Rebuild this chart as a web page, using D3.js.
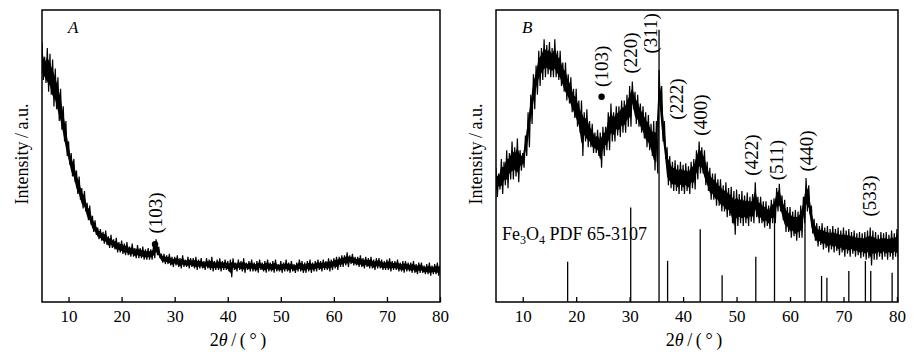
<!DOCTYPE html>
<html>
<head>
<meta charset="utf-8">
<script src="https://cdn.jsdelivr.net/npm/d3@7"></script>
<style>
  body { margin: 0; background: #fff; }
  svg text { font-family: "Liberation Serif", "Times New Roman", serif; fill: #000; }
</style>
</head>
<body>
<svg id="chart" width="914" height="359"></svg>
<script>
// sampling grid of the traces (2theta, degrees)
var thetaStart = 5, thetaStep = 0.5;

// panel A: upper / lower edge of the noisy trace, one value per 0.5 deg from 5 to 80
var aHigh = [
  89, 84, 87, 85, 83, 80, 77, 73, 67, 62,
  55, 51, 49, 45, 43, 39, 38, 34, 33, 29.5,
  28, 25.5, 25, 24, 24.5, 22.5, 23, 21.5, 22, 20.5,
  21, 20, 20.5, 19, 20, 18.5, 19.5, 18.5, 19, 18,
  18.5, 18, 19, 21.5, 19, 16.5, 16.5, 16, 16.5, 15.5,
  15.5, 16, 15, 16, 14.5, 15.5, 15, 15, 15.5, 14.5,
  15, 14, 15, 14.5, 15.5, 14, 14.5, 15, 14, 14.5,
  14, 14.5, 15, 13.5, 14.5, 14, 15, 13.5, 14, 14.5,
  13.5, 14, 14.5, 13.5, 14, 14.5, 13.5, 14, 14.5, 13,
  14, 13.5, 14.5, 13.5, 14, 13, 13.5, 14.5, 14, 13.5,
  14, 14.5, 13.5, 14, 14.5, 14, 14.5, 14, 15, 14.5,
  15, 15.5, 15.5, 16, 16, 17, 16, 16.5, 15.5, 15.5,
  16, 15, 15.5, 15, 15.5, 14.5, 15, 15, 14.5, 14,
  14.5, 15, 14, 14, 14.5, 13.5, 14, 14, 13.5, 13.5,
  14, 13, 13.5, 13.5, 12.5, 13, 13.5, 12.5, 13, 13.5,
  12.5
];
var aLow = [
  76, 75, 72, 71, 67, 66, 62, 59, 55, 50,
  47, 43, 41, 37, 35, 32, 31, 28, 26.5, 24,
  23, 21.5, 21, 20, 19.5, 18.5, 18.5, 18, 17, 17,
  16.5, 16, 16, 15.5, 15.5, 15, 15, 15, 14.5, 14.5,
  14.5, 14.5, 15, 16, 15, 13.5, 13, 13, 12.5, 12,
  12.5, 12, 11.5, 12, 12, 11.5, 12, 11.5, 11, 11.5,
  11.5, 11, 11.5, 11, 10.5, 11, 11, 10.5, 11, 11,
  10.5, 8.5, 11, 10.5, 11, 10.5, 10, 11, 10.5, 10.5,
  10.5, 10, 11, 10.5, 10, 10.5, 10.5, 10, 10.5, 10.5,
  10, 10.5, 10.5, 10, 10.5, 10, 10.5, 10.5, 10, 10,
  10.5, 10, 10.5, 10.5, 11, 10.5, 11, 11, 10.5, 11,
  11.5, 11, 12, 12, 12.5, 12, 13, 12.5, 12.5, 12,
  12, 11.5, 12, 11.5, 11.5, 11, 11.5, 11.5, 11, 11,
  11, 10.5, 11, 11, 10.5, 10.5, 10, 10.5, 10.5, 10,
  10, 9.5, 10, 10, 9.5, 9.5, 9, 9.5, 9.5, 9,
  9.5
];

// panel B: same, from 5 to 80.5
var bHigh = [
  46, 44, 49, 48, 52, 51, 55, 53, 56, 52,
  51, 57, 65, 71, 78, 81, 86, 87, 90, 88,
  89, 87, 90, 86, 86, 82, 82, 78, 77, 73,
  73, 69, 69, 65, 66, 62, 61, 58, 59, 58,
  60, 60, 65, 68, 65, 67, 67, 69, 69, 71,
  74, 75.5, 72, 71, 68, 67, 65, 64, 61, 62,
  62, 79.5, 74, 62, 53, 50, 48, 48.5, 47, 48,
  47, 47.5, 46.5, 48, 49, 52, 55, 53, 52, 48,
  46, 44, 44, 42, 42, 40, 41, 39, 39.5, 38,
  38.5, 37, 38, 36.5, 37.5, 36, 37, 41, 36, 36,
  34.5, 34.5, 33, 35, 35.5, 39, 40.5, 36.5, 35, 32.5,
  32.5, 31, 31.5, 31, 33, 36, 42.5, 40, 33, 28.5,
  27, 26, 27, 25.5, 26, 25, 26, 25, 25.5, 24.5,
  25.5, 24.5, 25, 24, 24.5, 23.5, 24, 23.5, 24, 24.5,
  25.5, 24.5, 24, 23, 24, 23.5, 24, 23, 24.5, 23.5,
  25, 24
];
var bLow = [
  36, 38.5, 37, 40, 39, 42, 42, 43, 41, 45,
  46, 50, 53, 61, 66, 71, 74, 76, 77, 78,
  77, 77, 77, 76, 74, 72, 69, 68, 65, 63,
  60, 58, 50, 55, 53, 53, 51, 51, 50, 46,
  50, 52, 52, 55, 55, 57, 56.5, 58, 58, 60,
  60, 66, 61, 60, 58, 56, 53, 52, 50, 45,
  44, 67, 55, 49, 40, 39, 38, 38, 37, 38,
  37, 38, 37, 39, 38.5, 42, 44, 44, 40, 38,
  35, 35, 33, 33, 31, 31, 29, 29.5, 27, 23,
  26, 27, 26, 27, 26, 27.5, 27, 29, 27, 27,
  25.5, 26, 25, 27, 27, 31, 31, 28, 24, 24,
  22, 22.5, 21, 22, 22, 27, 31, 30, 23.5, 21,
  19, 19.5, 18, 18.5, 17, 18, 17, 17.5, 16, 17,
  15.5, 16.5, 15.5, 16.5, 15.5, 16, 15, 15.5, 14.5, 15,
  12.5, 14.5, 14.5, 15.5, 14.5, 15.5, 14.5, 15.5, 14.5, 15.5,
  14.5, 16
];

// Fe3O4 PDF 65-3107 reference lines
var pdfTheta = [18.4, 30.2, 35.5, 37.1, 43.2, 47.3, 53.6, 57.1, 62.8, 65.9, 66.9, 71.0, 74.1, 75.1, 79.1];
var pdfHeight = [13.8, 32.4, 93.2, 14.1, 24.9, 9.2, 15.5, 31, 36, 8.9, 8.3, 10.6, 14.0, 10.6, 10.0];

// peak labels
var aPeaks = [{ text: "(103)", theta: 26.3, y: 30.5, dot: 19.8 }];
var bPeaks = [
  { text: "(103)", theta: 24.75, y: 80.7, dot: 70.3 },
  { text: "(220)", theta: 30.05, y: 85.3 },
  { text: "(311)", theta: 33.8, y: 92 },
  { text: "(222)", theta: 38.8, y: 69.5 },
  { text: "(400)", theta: 43.3, y: 64 },
  { text: "(422)", theta: 52.8, y: 50.3 },
  { text: "(511)", theta: 57.5, y: 48.6 },
  { text: "(440)", theta: 63.1, y: 51.7 },
  { text: "(533)", theta: 74.8, y: 36.3 }
];

var xTicks = [10, 20, 30, 40, 50, 60, 70, 80];

var svg = d3.select("#chart");

// zigzag between the upper and lower edge, lower point half a step later
function tracePoints(high, low) {
    var pts = [];
    high.forEach(function(h, i) {
        var t = thetaStart + i * thetaStep;
        pts.push([t, h]);
        pts.push([t + thetaStep / 2, low[i]]);
    });
    return pts;
}

function drawPanel(opts) {
    var dim = { left: opts.left, right: opts.right, top: 10, bottom: 302 };

    var x = d3.scaleLinear().domain(opts.domain).range([dim.left, dim.right]);
    var y = d3.scaleLinear().domain([0, 100]).range([dim.bottom, dim.top]);

    var g = svg.append("g");

    g.append("clipPath")
        .attr("id", "clip-" + opts.id)
        .append("rect")
        .attr("x", dim.left)
        .attr("y", dim.top)
        .attr("width", dim.right - dim.left)
        .attr("height", dim.bottom - dim.top);

    var line = d3.line()
        .x(function(d) { return x(d[0]); })
        .y(function(d) { return y(d[1]); });

    // reference sticks
    if (opts.sticks) {
        g.append("g").selectAll("line").data(opts.sticks)
            .enter().append("line")
            .attr("x1", function(d) { return x(d[0]); })
            .attr("x2", function(d) { return x(d[0]); })
            .attr("y1", y(0))
            .attr("y2", function(d) { return y(d[1]); })
            .attr("stroke", "#000")
            .attr("stroke-width", 1.3);
    }

    var trace = g.append("g").attr("clip-path", "url(#clip-" + opts.id + ")");

    // solid core of the noise band
    var core = d3.area()
        .x(function(d, i) { return x(thetaStart + i * thetaStep); })
        .y0(function(d, i) { return y(opts.low[i] + (d - opts.low[i]) * 0.22); })
        .y1(function(d, i) { return y(d - (d - opts.low[i]) * 0.22); });

    trace.append("path")
        .datum(opts.high)
        .attr("fill", "#000")
        .attr("d", core);

    trace.append("path")
        .datum(tracePoints(opts.high, opts.low))
        .attr("fill", "none")
        .attr("stroke", "#000")
        .attr("stroke-width", 1.2)
        .attr("d", line);

    // bottom axis, ticks pointing inward
    var xAxis = d3.axisBottom(x)
        .tickValues(xTicks)
        .tickSizeInner(-5)
        .tickSizeOuter(0)
        .tickPadding(8)
        .tickFormat(d3.format("d"));

    var ax = g.append("g")
        .attr("transform", "translate(0," + dim.bottom + ")")
        .call(xAxis);
    ax.select(".domain").remove();
    ax.selectAll(".tick line").attr("stroke", "#000").attr("stroke-width", 1.3);
    ax.selectAll(".tick text")
        .attr("font-family", "Liberation Serif")
        .attr("font-size", 17)
        .attr("fill", "#000");

    // frame
    g.append("rect")
        .attr("x", dim.left)
        .attr("y", dim.top)
        .attr("width", dim.right - dim.left)
        .attr("height", dim.bottom - dim.top)
        .attr("fill", "none")
        .attr("stroke", "#000")
        .attr("stroke-width", 1.5);

    // peak labels
    var peaks = g.append("g").selectAll("g").data(opts.peaks).enter().append("g");
    peaks.append("text")
        .attr("transform", function(d) { return "translate(" + x(d.theta) + "," + y(d.y) + ") rotate(-90)"; })
        .attr("text-anchor", "middle")
        .attr("dy", "0.35em")
        .attr("font-size", 19)
        .text(function(d) { return d.text; });
    peaks.filter(function(d) { return d.dot != null; })
        .append("circle")
        .attr("cx", function(d) { return x(d.theta); })
        .attr("cy", function(d) { return y(d.dot); })
        .attr("r", 3.2)
        .attr("fill", "#000");

    // panel letter
    g.append("text")
        .attr("x", dim.left + 26)
        .attr("y", 33)
        .attr("font-size", 17)
        .attr("font-style", "italic")
        .text(opts.letter);

    // axis titles
    g.append("text")
        .attr("transform", "translate(" + (dim.left - 14) + "," + 154 + ") rotate(-90)")
        .attr("text-anchor", "middle")
        .attr("font-size", 18)
        .text("Intensity\u2009/\u2009a.u.");

    var xt = g.append("text")
        .attr("x", (dim.left + dim.right) / 2 - 3)
        .attr("y", 346)
        .attr("text-anchor", "middle")
        .attr("font-size", 18);
    xt.append("tspan").text("2");
    xt.append("tspan").attr("font-style", "italic").text("\u03b8");
    xt.append("tspan").text("\u2009/\u2009(\u2009\u00b0\u2009)");

    return { g: g, x: x, y: y };
}

drawPanel({
    id: "a", left: 42, right: 440, domain: [5, 80],
    high: aHigh, low: aLow, peaks: aPeaks, letter: "A"
});

var pb = drawPanel({
    id: "b", left: 496, right: 898, domain: [5, 80.2],
    high: bHigh, low: bLow, peaks: bPeaks, letter: "B",
    sticks: pdfTheta.map(function(t, i) { return [t, pdfHeight[i]]; })
});

// reference card name
var card = pb.g.append("text")
    .attr("x", 502)
    .attr("y", 240)
    .attr("font-size", 18);
card.append("tspan").text("Fe");
card.append("tspan").attr("font-size", 12).attr("dy", 4).text("3");
card.append("tspan").attr("dy", -4).text("O");
card.append("tspan").attr("font-size", 12).attr("dy", 4).text("4");
card.append("tspan").attr("dy", -4).text(" PDF 65-3107");
</script>
</body>
</html>
